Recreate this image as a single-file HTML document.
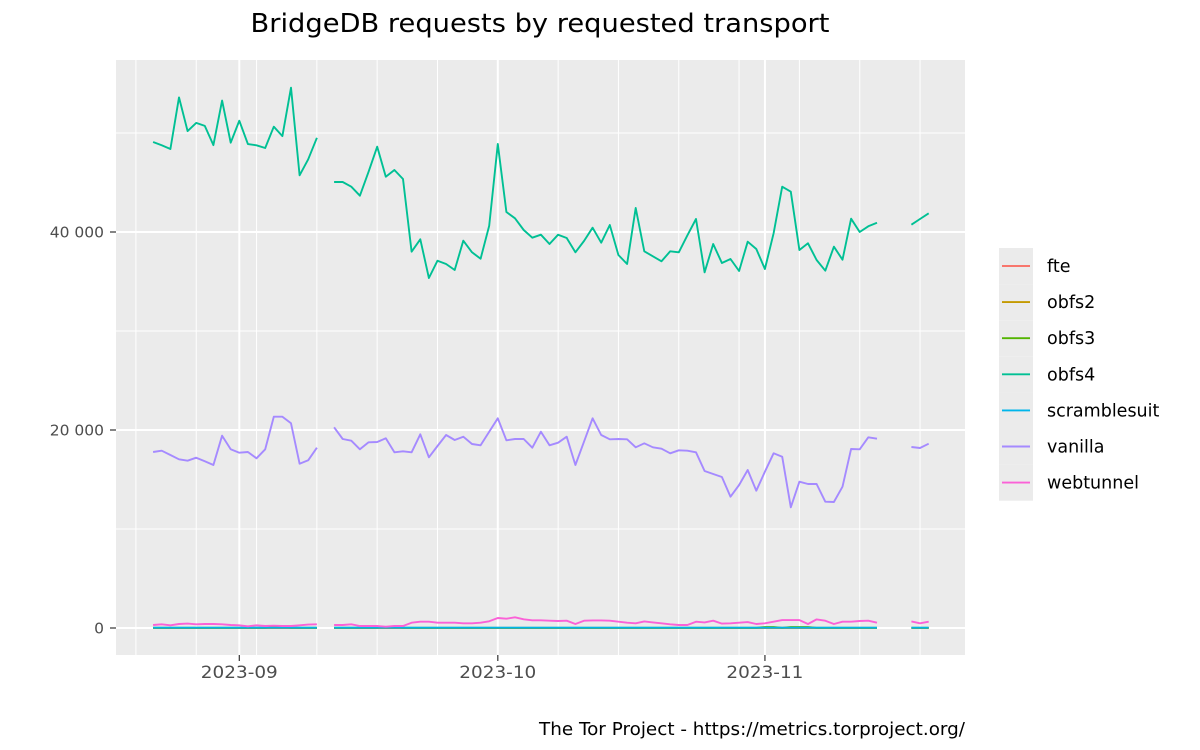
<!DOCTYPE html>
<html><head><meta charset="utf-8"><style>
html,body{margin:0;padding:0;background:#fff;}
svg{display:block;font-family:"DejaVu Sans","Liberation Sans",sans-serif;}
</style></head><body>
<svg id="chart" width="1200" height="750" viewBox="0 0 1200 750" xmlns="http://www.w3.org/2000/svg">
<rect x="0" y="0" width="1200" height="750" fill="#fff"/>
<text x="540" y="32" text-anchor="middle" font-size="26" fill="#000" textLength="579" lengthAdjust="spacingAndGlyphs">BridgeDB requests by requested transport</text>
<rect x="116" y="60" width="849" height="595" fill="#EBEBEB"/>
<g id="grid"></g><g id="series"></g><g id="axes"></g><g id="legend"></g>
<text x="965" y="735" text-anchor="end" font-size="18" fill="#000" textLength="426" lengthAdjust="spacingAndGlyphs">The Tor Project - https://metrics.torproject.org/</text>
</svg>
<script>
// day 0 = 2023-09-01; first value is day -10 (2023-08-22)
const startDay = -10;
const seriesNames = ["fte","obfs2","obfs3","obfs4","scramblesuit","vanilla","webtunnel"];
const seriesColors = ["#F8766D","#C49A00","#53B400","#00C094","#00B6EB","#A58AFF","#FB61D7"];
const yTicks = [0,20000,40000];
const yTickLabels = ["0","20 000","40 000"];
const yMinor = [10000,30000,50000];
const xTickDays = [0,30,61];
const xTickLabels = ["2023-09","2023-10","2023-11"];

const obfs4 = [49090,48760,48380,53600,50190,51020,50720,48780,53270,49020,51240,48880,48760,48480,50640,49690,54580,45730,47340,49520,
null,
45050,45050,44580,43670,46090,48620,45590,46260,45350,38010,39260,35350,37100,36770,36160,39120,37950,37300,40640,48890,42020,41380,40200,39420,39730,
38790,39730,39390,37950,39090,40430,38920,40710,37680,36770,42420,38050,37550,37040,38050,37950,39670,41310,35930,38790,36870,37270,36060,39020,38280,36260,39870,44580,44070,38180,38860,37170,36090,38520,37200,41340,40000,40580,40940,
null,null,null,
40740,41310,41890];
const vanilla = [17780,17910,17470,17040,16900,17200,16840,16460,19420,18050,17710,17780,17140,18050,21340,21340,20680,16600,16940,18210,
null,
20270,19090,18920,18050,18760,18790,19160,17750,17850,17750,19570,17240,18380,19490,18990,19320,18590,18450,19830,21180,18960,19090,19090,18210,19830,
18450,18720,19320,16460,18820,21180,19490,19060,19090,19060,18250,18660,18250,18110,17650,17950,17910,17750,15860,15560,15250,13260,14440,15960,13870,15790,17650,17300,12190,14780,14550,14550,12760,12730,14270,18080,18050,19260,19120,
null,null,null,
18280,18180,18620];
const webtunnel = [300,370,270,400,440,370,400,400,370,300,270,170,270,200,230,200,200,270,340,370,
null,
300,300,370,200,200,200,130,200,200,540,640,640,540,540,540,470,470,540,680,1010,940,1080,880,780,780,
740,710,740,400,740,770,770,740,640,540,470,670,570,470,370,300,300,640,570,740,440,470,540,600,400,470,640,800,800,800,400,870,740,400,640,640,710,740,540,
null,null,null,
670,470,640];
const fte = [0,0,0,0,0,0,0,0,0,0,0,0,0,0,0,0,0,0,0,0,null,
0,0,0,0,0,0,0,0,0,0,0,0,0,0,0,0,0,0,0,0,0,0,0,0,0,0,0,0,0,0,0,0,0,0,0,0,0,0,0,0,0,0,0,0,0,0,0,0,0,0,0,0,0,0,0,0,0,0,0,0,0,0,0,0,
null,null,null,0,0,0];
const obfs2 = [10,10,10,10,10,10,10,10,10,10,10,10,10,10,10,10,10,10,10,10,null,
10,10,10,10,10,10,10,10,10,10,10,10,10,10,10,10,10,10,10,10,10,10,10,10,10,10,10,10,10,10,10,10,10,10,10,10,10,10,10,10,10,10,10,10,10,10,10,10,10,10,10,10,10,10,10,10,10,10,10,10,10,10,10,10,
null,null,null,10,10,10];
const obfs3 = [20,20,20,20,20,20,20,20,20,20,20,20,20,20,90,90,20,20,20,20,null,
20,20,20,20,20,20,90,90,20,20,20,20,20,20,20,20,20,20,20,20,20,20,20,20,20,20,20,20,20,20,20,20,20,20,20,20,20,20,20,20,20,20,20,20,20,20,20,20,20,20,90,90,20,90,90,90,20,20,20,20,20,20,20,20,
null,null,null,20,20,20];
const scramblesuit = [30,30,30,30,30,30,30,30,30,30,30,30,30,30,30,30,30,30,30,30,null,
30,30,30,30,30,30,30,30,30,30,30,30,30,30,30,30,30,30,30,30,30,30,30,30,30,30,30,30,30,30,30,30,30,30,30,30,30,30,30,30,30,30,30,30,30,30,30,30,30,30,30,30,30,30,30,30,30,30,30,30,30,30,30,30,
null,null,null,30,30,30];
const allSeries = [fte,obfs2,obfs3,obfs4,scramblesuit,vanilla,webtunnel];

const NS="http://www.w3.org/2000/svg";
const PX0=116,PX1=965,PY0=60,PY1=655;
function xScale(d){return 239.3+d*8.617;}
function yScale(v){return 628-v*(198/20000);}
function mk(tag,attrs,parent){const e=document.createElementNS(NS,tag);for(const k in attrs)e.setAttribute(k,attrs[k]);parent.appendChild(e);return e;}

const grid=document.getElementById('grid');
yMinor.forEach(v=>{
  const l=mk('line',{x1:PX0,x2:PX1,y1:yScale(v),y2:yScale(v),stroke:'#fff','stroke-width':1},grid);
  
  
});
for(let x=xScale(-12);x<PX1;x+=8.617*7){
  const l=mk('line',{x1:x,x2:x,y1:PY0,y2:PY1,stroke:'#fff','stroke-width':1},grid);
  
  
}
yTicks.forEach(v=>{
  const l=mk('line',{x1:PX0,x2:PX1,y1:yScale(v),y2:yScale(v),stroke:'#fff','stroke-width':2},grid);
  
  
});
xTickDays.forEach(d=>{
  const l=mk('line',{x1:xScale(d),x2:xScale(d),y1:PY0,y2:PY1,stroke:'#fff','stroke-width':2},grid);
  
  
});

const sg=document.getElementById('series');
allSeries.forEach((vals,si)=>{
  let d='',pen=false;
  vals.forEach((v,i)=>{
    if(v===null){pen=false;return;}
    const x=xScale(startDay+i).toFixed(1),y=yScale(v).toFixed(1);
    d+=(pen?'L':'M')+x+' '+y+' ';pen=true;
  });
  const p=mk('path',{d:d,fill:'none',stroke:seriesColors[si],'stroke-width':1.9,'stroke-linejoin':'round'},sg);
  
  
});

const ax=document.getElementById('axes');
yTicks.forEach((v,i)=>{
  const y=yScale(v);
  const t=mk('line',{x1:110,x2:116,y1:y,y2:y,stroke:'#333','stroke-width':1.2},ax);
  
  
  const tx=mk('text',{x:104,y:y+5.5,'text-anchor':'end','font-size':15.5,fill:'#4D4D4D'},ax);
  tx.textContent=yTickLabels[i];
  
  
});
xTickDays.forEach((d,i)=>{
  const x=xScale(d);
  const t=mk('line',{x1:x,x2:x,y1:655,y2:661,stroke:'#333','stroke-width':1.2},ax);
  
  
  const tx=mk('text',{x:x,y:678,'text-anchor':'middle','font-size':16.5,fill:'#4D4D4D',textLength:77,lengthAdjust:'spacingAndGlyphs'},ax);
  tx.textContent=xTickLabels[i];
  
  
});

const lg=document.getElementById('legend');
seriesNames.forEach((n,i)=>{
  const cy=266+i*36.1;
  const g=mk('g',{},lg);
  
  
  mk('rect',{x:999,y:cy-18,width:34,height:36.1,fill:'#EBEBEB'},g);
  mk('line',{x1:1002,x2:1030,y1:cy,y2:cy,stroke:seriesColors[i],'stroke-width':1.9},g);
  const tx=mk('text',{x:1047,y:cy+6,'font-size':17.5,fill:'#000'},g);
  tx.textContent=n;
});
</script>
</body></html>
